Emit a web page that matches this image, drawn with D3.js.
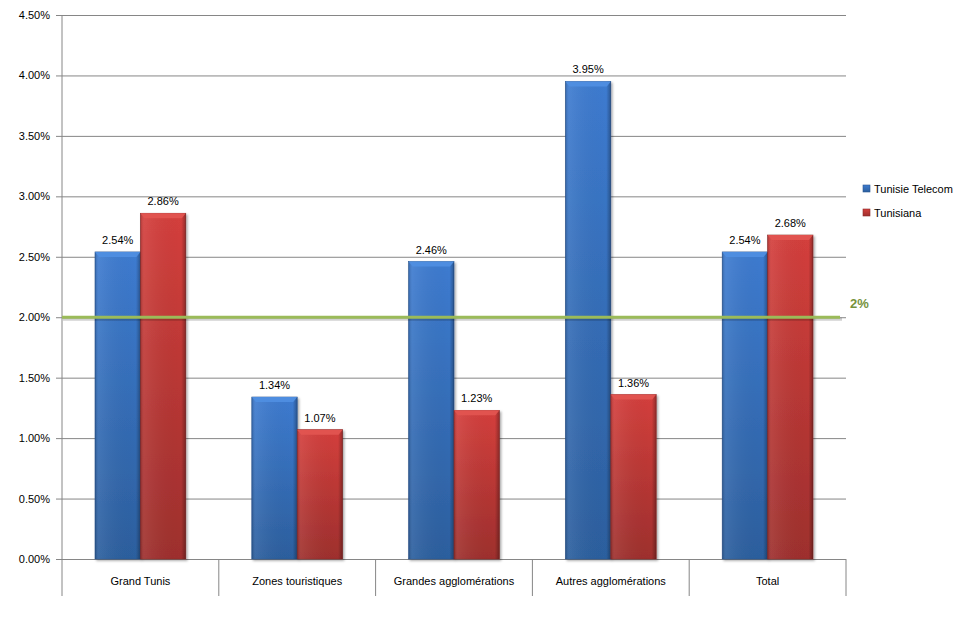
<!DOCTYPE html>
<html>
<head>
<meta charset="utf-8">
<script src="https://cdn.jsdelivr.net/npm/d3@7"></script>
<style>
  body { margin: 0; background: #fff; }
  svg { font-family: 'Liberation Sans', Arial, sans-serif; }
  .grid line { stroke: #868686; stroke-width: 1; }
  .grid .domain { display: none; }
  .axis text { font-size: 11px; fill: #000; }
</style>
</head>
<body>
<div id="chart"></div>
<script>
const categories = ['Grand Tunis', 'Zones touristiques', 'Grandes agglomérations', 'Autres agglomérations', 'Total']
const seriesNames = ['Tunisie Telecom', 'Tunisiana']
const tunisieTelecom = [2.54, 1.34, 2.46, 3.95, 2.54]
const tunisiana = [2.86, 1.07, 1.23, 1.36, 2.68]
const yTicks = [0, 0.5, 1, 1.5, 2, 2.5, 3, 3.5, 4, 4.5]
const threshold = 2

const width = 980
const height = 635
const margin = { top: 15, right: 134, bottom: 76, left: 62 }
const innerWidth = width - margin.left - margin.right
const innerHeight = height - margin.top - margin.bottom

const svg = d3.select('#chart')
  .append('svg')
  .attr('width', width)
  .attr('height', height)

// Gradients for the bevelled bars
const defs = svg.append('defs')
const palettes = [
  { id: 'blue', light: '#4f8ee0', mid: '#3d7bd0', dark: '#2c5f9e', edge: '#2a5590' },
  { id: 'red', light: '#e25450', mid: '#d43f3c', dark: '#9e2f2d', edge: '#8a2a28' }
]
palettes.forEach(p => {
  const v = defs.append('linearGradient')
    .attr('id', `grad-${p.id}`)
    .attr('x1', 0).attr('y1', 0).attr('x2', 0).attr('y2', 1)
  v.append('stop').attr('offset', '0%').attr('stop-color', p.mid)
  v.append('stop').attr('offset', '100%').attr('stop-color', p.dark)

  const h = defs.append('linearGradient')
    .attr('id', `side-${p.id}`)
    .attr('x1', 0).attr('y1', 0).attr('x2', 1).attr('y2', 0)
  h.append('stop').attr('offset', '0%').attr('stop-color', '#000').attr('stop-opacity', 0.18)
  h.append('stop').attr('offset', '8%').attr('stop-color', '#fff').attr('stop-opacity', 0.08)
  h.append('stop').attr('offset', '90%').attr('stop-color', '#000').attr('stop-opacity', 0)
  h.append('stop').attr('offset', '100%').attr('stop-color', '#000').attr('stop-opacity', 0.3)
})
const shadow = defs.append('filter').attr('id', 'shadow')
  .attr('x', '-20%').attr('y', '-20%').attr('width', '140%').attr('height', '140%')
shadow.append('feDropShadow')
  .attr('dx', 1.5).attr('dy', 1.5).attr('stdDeviation', 1.2)
  .attr('flood-color', '#000').attr('flood-opacity', 0.35)

const g = svg.append('g')
  .attr('transform', `translate(${margin.left}, ${margin.top})`)

// Scales
const x0 = d3.scaleBand().domain(categories).range([0, innerWidth]).paddingInner(0).paddingOuter(0)
const yScale = d3.scaleLinear().domain([0, 4.5]).range([innerHeight, 0])
const barPad = 33
const x1 = d3.scaleBand().domain(seriesNames)
  .range([barPad, x0.bandwidth() - barPad]).padding(0)

// Horizontal gridlines with tick marks
g.append('g')
  .attr('class', 'grid axis')
  .call(
    d3.axisLeft(yScale)
      .tickValues(yTicks)
      .tickSize(-innerWidth)
      .tickFormat(d => d.toFixed(2) + '%')
  )
  .call(a => a.selectAll('.tick line').attr('x1', -6))
  .call(a => a.selectAll('.tick text').attr('x', -12))

// Left axis line
g.append('line')
  .attr('x1', 0).attr('x2', 0)
  .attr('y1', 0).attr('y2', innerHeight + 37)
  .attr('stroke', '#868686')

// Category separators below axis
g.append('g')
  .selectAll('line')
  .data(categories)
  .join('line')
  .attr('x1', d => x0(d) + x0.bandwidth())
  .attr('x2', d => x0(d) + x0.bandwidth())
  .attr('y1', innerHeight)
  .attr('y2', innerHeight + 37)
  .attr('stroke', '#868686')

// Category labels
g.append('g')
  .selectAll('text')
  .data(categories)
  .join('text')
  .attr('x', d => x0(d) + x0.bandwidth() / 2)
  .attr('y', innerHeight + 26)
  .attr('text-anchor', 'middle')
  .attr('font-size', 11)
  .text(d => d)

// Bars
const rows = categories.map((c, i) => ({
  category: c,
  values: [
    { name: seriesNames[0], value: tunisieTelecom[i], pal: 'blue' },
    { name: seriesNames[1], value: tunisiana[i], pal: 'red' }
  ]
}))

const groups = g.append('g')
  .selectAll('g')
  .data(rows)
  .join('g')
  .attr('transform', d => `translate(${x0(d.category)}, 0)`)

const bars = groups.selectAll('g')
  .data(d => d.values)
  .join('g')
  .attr('transform', d => `translate(${x1(d.name)}, ${yScale(d.value)})`)

bars.append('rect')
  .attr('width', x1.bandwidth())
  .attr('height', d => innerHeight - yScale(d.value))
  .attr('fill', d => `url(#grad-${d.pal})`)
  .attr('stroke', d => palettes.find(p => p.id === d.pal).edge)
  .attr('stroke-width', 0.6)
  .attr('filter', 'url(#shadow)')

bars.append('rect')
  .attr('width', x1.bandwidth())
  .attr('height', d => innerHeight - yScale(d.value))
  .attr('fill', d => `url(#side-${d.pal})`)

// Top bevel
bars.append('path')
  .attr('d', () => {
    const w = x1.bandwidth()
    return `M0,0 L${w},0 L${w - 4},5 L4,5 Z`
  })
  .attr('fill', d => palettes.find(p => p.id === d.pal).light)
  .attr('opacity', 0.95)

// Value labels
bars.append('text')
  .attr('x', x1.bandwidth() / 2)
  .attr('y', -8)
  .attr('text-anchor', 'middle')
  .attr('font-size', 11)
  .text(d => d.value.toFixed(2) + '%')

// 2% threshold line (soft shadow underneath, then the line)
const yT = yScale(threshold)
g.append('line')
  .attr('x1', 1).attr('x2', innerWidth - 4)
  .attr('y1', yT + 2).attr('y2', yT + 2)
  .attr('stroke', '#000')
  .attr('stroke-opacity', 0.18)
  .attr('stroke-width', 3)
g.append('line')
  .attr('x1', 0)
  .attr('x2', innerWidth - 6)
  .attr('y1', yT)
  .attr('y2', yT)
  .attr('stroke', '#9bbb59')
  .attr('stroke-width', 3)

g.append('text')
  .attr('x', innerWidth + 4)
  .attr('y', yT - 9)
  .attr('font-size', 13)
  .attr('font-weight', 'bold')
  .attr('fill', '#76923c')
  .text(threshold + '%')

// Legend
const legend = svg.append('g')
  .attr('transform', 'translate(863, 185)')
const legendItems = legend.selectAll('g')
  .data(seriesNames)
  .join('g')
  .attr('transform', (d, i) => `translate(0, ${i * 24})`)
legendItems.append('rect')
  .attr('width', 7).attr('height', 7)
  .attr('fill', (d, i) => `url(#grad-${palettes[i].id})`)
  .attr('stroke', (d, i) => palettes[i].edge)
  .attr('stroke-width', 0.6)
legendItems.append('text')
  .attr('x', 11)
  .attr('y', 8)
  .attr('font-size', 11)
  .text(d => d)
</script>
</body>
</html>
